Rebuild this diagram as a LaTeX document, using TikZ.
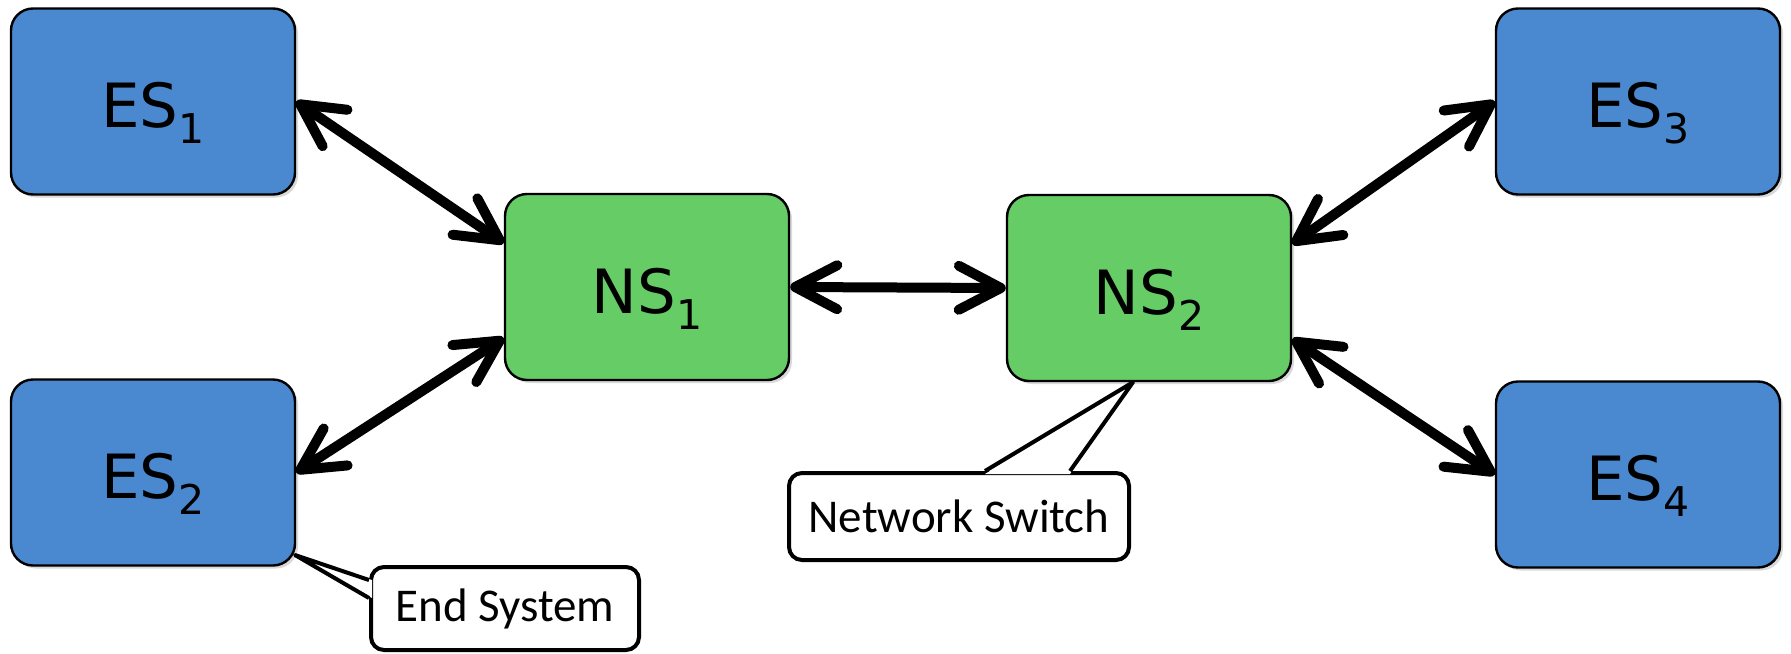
\documentclass[tikz,border=0pt]{standalone}
\usepackage{fontspec}
\setmainfont{DejaVu Sans}
\newfontfamily\notefont{Carlito}
\usetikzlibrary{arrows.meta,shadows}

\definecolor{esblue}{RGB}{74,137,208}
\definecolor{nsgreen}{RGB}{102,204,102}

% lowered index after ES / NS
\newcommand{\lowsub}[1]{\raisebox{-8pt}{\fontsize{20.5}{20.5}\selectfont #1}}

\tikzset{
	unit/.style={draw=black, line width=1.2pt, rounded corners=11pt,
		minimum width=142pt, minimum height=93pt, inner sep=0pt,
		text height=26pt, text depth=0pt, font=\fontsize{30.5}{36}\selectfont,
		drop shadow={opacity=0.3, shadow xshift=1.5pt, shadow yshift=-1.5pt}},
	endsys/.style={unit, fill=esblue},
	netsw/.style={unit, fill=nsgreen},
	link/.style={line width=5pt,
		{Straight Barb[length=21pt,width=22pt,round]}-{Straight Barb[length=21pt,width=22pt,round]}},
	note/.style={draw=black, line width=2pt, fill=white, rounded corners=6.5pt,
		inner sep=0pt, font=\notefont\fontsize{23.5}{28}\selectfont},
	notetail/.style={draw=black, line width=2pt, line join=round},
}

\begin{document}
\begin{tikzpicture}[x=0.5pt, y=-0.5pt]
	\useasboundingbox (0,0) rectangle (1791,653);

	\node[endsys] (es1) at (153,101.5) {ES\lowsub{1}};
	\node[endsys] (es2) at (153,472.5) {ES\lowsub{2}};
	\node[endsys] (es3) at (1638,101.5) {ES\lowsub{3}};
	\node[endsys] (es4) at (1638,474.5) {ES\lowsub{4}};

	\node[netsw] (ns1) at (647,287) {NS\lowsub{1}};
	\node[netsw] (ns2) at (1149,288) {NS\lowsub{2}};

	\draw[link] (es1.east) -- ([yshift=22pt]ns1.west);
	\draw[link] (es2.east) -- ([yshift=-25.5pt]ns1.west);
	\draw[link] (ns1.east) -- (ns2.west);
	\draw[link] (es3.west) -- ([yshift=22pt]ns2.east);
	\draw[link] (es4.west) -- ([yshift=-25.5pt]ns2.east);

	% callouts
	\node[note, minimum width=134pt, minimum height=41.5pt] (es-note) at (505,608.5) {End System};
	\coordinate (es-tip) at (295,555);
	\fill[white] ([shift={(1.5pt,-7.5pt)}]es-note.north west) -- (es-tip)
		-- ([shift={(1.5pt,-16.5pt)}]es-note.north west) -- cycle;
	\draw[notetail] ([yshift=-7.5pt]es-note.north west) -- (es-tip)
		-- ([yshift=-16.5pt]es-note.north west);

	\node[note, minimum width=170pt, minimum height=43.5pt] (ns-note) at (959,516.5) {Network Switch};
	\coordinate (ns-tip) at ([xshift=-8pt]ns2.south);
	\fill[white] ([shift={(99pt,-1.5pt)}]ns-note.north west) -- (ns-tip)
		-- ([shift={(141.5pt,-1.5pt)}]ns-note.north west) -- cycle;
	\draw[notetail] ([xshift=99pt]ns-note.north west) -- (ns-tip)
		-- ([xshift=141.5pt]ns-note.north west);
\end{tikzpicture}
\end{document}
